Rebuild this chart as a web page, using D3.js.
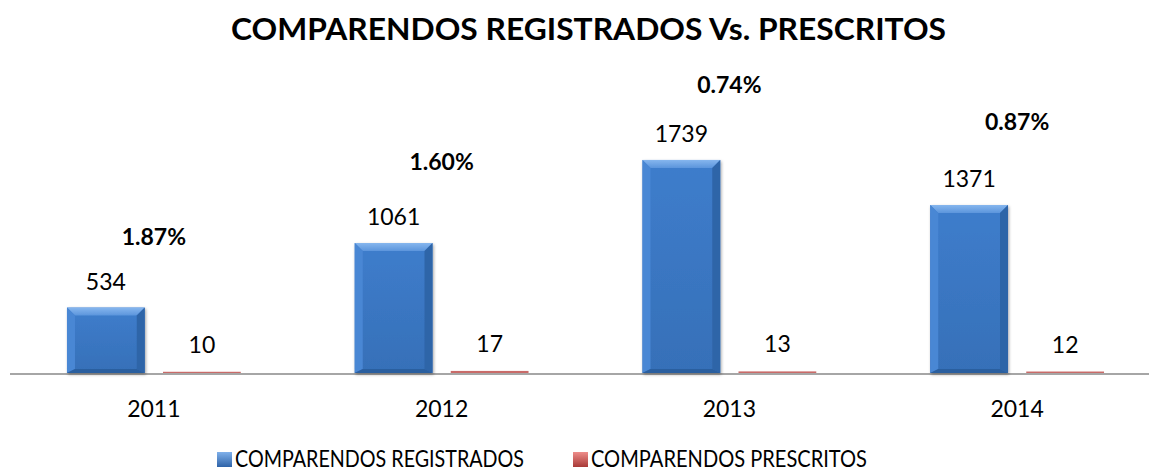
<!DOCTYPE html>
<html>
<head>
<meta charset="utf-8">
<script src="https://cdn.jsdelivr.net/npm/d3@7"></script>
<style>
html,body{margin:0;padding:0;background:#fff;}
svg{display:block;}
text{font-family:Lato,"Open Sans",sans-serif;fill:#000;}
</style>
</head>
<body>
<svg id="chart" width="1149" height="472"></svg>
<script>
// ---- data ----
const categories = ["2011", "2012", "2013", "2014"];
const registrados = [534, 1061, 1739, 1371];
const prescritos = [10, 17, 13, 12];
const percentLabels = ["1.87%", "1.60%", "0.74%", "0.87%"];
const seriesNames = ["COMPARENDOS REGISTRADOS", "COMPARENDOS PRESCRITOS"];
const titleText = "COMPARENDOS REGISTRADOS Vs. PRESCRITOS";

// ---- layout ----
const W = 1149, H = 472;
const baseY = 373;
const svg = d3.select("#chart");
const defs = svg.append("defs");

const x0 = d3.scaleBand().domain(categories).range([10, 1161]).paddingInner(0.396).paddingOuter(0.198);
const x1 = d3.scaleBand().domain([0, 1]).range([0, x0.bandwidth()]).paddingInner(0.19);
const y = d3.scaleLinear().domain([0, 2000]).range([baseY, baseY - 245]);

// gradients
function grad(id, stops, horiz) {
  const g = defs.append("linearGradient").attr("id", id)
    .attr("x1", 0).attr("y1", 0).attr("x2", horiz ? 1 : 0).attr("y2", horiz ? 0 : 1);
  stops.forEach(s => g.append("stop").attr("offset", s[0]).attr("stop-color", s[1]));
}
grad("blueBody", [[0, "#3e7dcc"], [1, "#3670b8"]], false);
grad("blueTop", [[0, "#86b6ee"], [1, "#5b95dc"]], false);
grad("blueLeg", [[0, "#7fb0ea"], [1, "#2e63a8"]], false);
grad("redLeg", [[0, "#ee8d8a"], [1, "#a83a37"]], false);

const filt = defs.append("filter").attr("id", "shadow").attr("x", "-20%").attr("y", "-20%").attr("width", "140%").attr("height", "140%");
filt.append("feDropShadow").attr("dx", 1).attr("dy", 1.5).attr("stdDeviation", 1.5).attr("flood-color", "#000").attr("flood-opacity", 0.35);

// title
svg.append("text").attr("x", 588.5).attr("y", 40).attr("text-anchor", "middle")
  .attr("font-size", 31).attr("font-weight", "bold")
  .attr("textLength", 715).attr("lengthAdjust", "spacingAndGlyphs")
  .text(titleText);

// axis line
svg.append("line").attr("x1", 10).attr("x2", W).attr("y1", baseY + 1).attr("y2", baseY + 1)
  .attr("stroke", "#a6a6a6").attr("stroke-width", 2);

// blue bars with bevel
const bev = 8;
const groups = svg.append("g").selectAll("g").data(categories).join("g")
  .attr("transform", d => `translate(${x0(d)},0)`);

groups.each(function(cat, i) {
  const g = d3.select(this);
  const bx = x1(0), bw = x1.bandwidth();
  const top = y(registrados[i]), bot = y(0);
  const bg = g.append("g").attr("filter", "url(#shadow)");
  bg.append("rect").attr("x", bx).attr("y", top).attr("width", bw).attr("height", bot - top).attr("fill", "url(#blueBody)");
  bg.append("polygon").attr("points", [[bx, top], [bx + bw, top], [bx + bw - bev, top + bev], [bx + bev, top + bev]].map(p => p.join(",")).join(" "))
    .attr("fill", "url(#blueTop)");
  bg.append("polygon").attr("points", [[bx, top], [bx + bev, top + bev], [bx + bev, bot - bev * 0.5], [bx, bot]].map(p => p.join(",")).join(" "))
    .attr("fill", "#4a87d4");
  bg.append("polygon").attr("points", [[bx + bw, top], [bx + bw - bev, top + bev], [bx + bw - bev, bot - bev * 0.5], [bx + bw, bot]].map(p => p.join(",")).join(" "))
    .attr("fill", "#2f65a8");
  bg.append("polygon").attr("points", [[bx, bot], [bx + bev, bot - bev * 0.5], [bx + bw - bev, bot - bev * 0.5], [bx + bw, bot]].map(p => p.join(",")).join(" "))
    .attr("fill", "#2c5f9f");

  const rx = x1(1);
  const rtop = y(prescritos[i]);
  g.append("rect").attr("x", rx).attr("y", rtop).attr("width", bw).attr("height", bot - rtop)
    .attr("fill", "#c96b69");

  g.append("text").attr("x", bx + bw / 2).attr("y", top - 18).attr("text-anchor", "middle")
    .attr("font-size", 23).text(registrados[i]);
  g.append("text").attr("x", rx + bw / 2).attr("y", rtop - 19).attr("text-anchor", "middle")
    .attr("font-size", 23).text(prescritos[i]);
});

// percent labels (bold), placed above the registrados label
const pctGap = [45, 55, 49, 57];
svg.append("g").selectAll("text").data(categories).join("text")
  .attr("x", d => x0(d) + x0.bandwidth() / 2)
  .attr("y", (d, i) => y(registrados[i]) - 18 - pctGap[i])
  .attr("text-anchor", "middle").attr("font-size", 23).attr("font-weight", "bold")
  .text((d, i) => percentLabels[i]);

// category axis labels
const xAxis = d3.axisBottom(x0).tickSize(0).tickPadding(0);
const ax = svg.append("g").attr("transform", `translate(0,${baseY})`).call(xAxis);
ax.select(".domain").remove();
ax.selectAll("text").attr("font-size", 23).attr("fill", "#000").attr("dy", 0).attr("y", 44)
  .style("font-family", "Lato, 'Open Sans', sans-serif");

// legend
const legX = [217, 573];
const legW = [289, 276];
const leg = svg.append("g").selectAll("g").data(seriesNames).join("g")
  .attr("transform", (d, i) => `translate(${legX[i]},0)`);
leg.append("rect").attr("x", 0).attr("y", 452).attr("width", 15).attr("height", 15)
  .attr("fill", (d, i) => i === 0 ? "url(#blueLeg)" : "url(#redLeg)");
leg.append("text").attr("x", 18).attr("y", 467).attr("font-size", 23)
  .attr("textLength", (d, i) => legW[i]).attr("lengthAdjust", "spacingAndGlyphs")
  .text(d => d);
</script>
</body>
</html>
